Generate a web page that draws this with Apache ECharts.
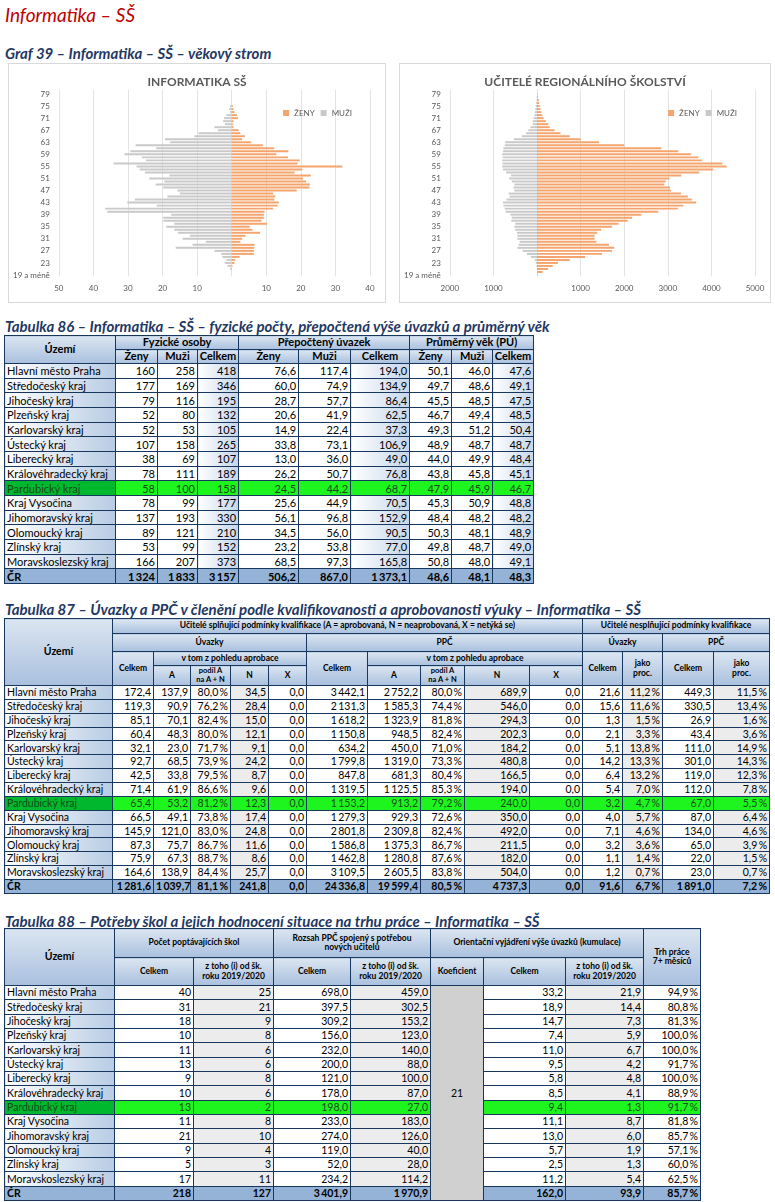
<!DOCTYPE html>
<html><head><meta charset="utf-8">
<script src="https://cdn.jsdelivr.net/npm/echarts@6/dist/echarts.min.js"></script>
<style>
body{margin:0;width:775px;height:1202px;background:#fff;position:relative;overflow:hidden;font-family:Lato,"Liberation Sans",sans-serif;}
.t{position:absolute;left:5px;font-weight:bold;font-style:italic;color:#1f3864;font-size:15px;white-space:nowrap;}
.box{position:absolute;border:1px solid #d9d9d9;box-sizing:border-box;}
table{position:absolute;border-collapse:collapse;table-layout:fixed;font-size:10.5px;}
td{border:1px solid #17375e;padding:0 2px;white-space:nowrap;overflow:hidden;text-align:right;line-height:1;}
td.h{background:linear-gradient(#dbe5f1,#a9c0de);text-align:center;font-weight:bold;white-space:normal;line-height:1.1;padding:0 1px;}
td.l{background:linear-gradient(90deg,#fff,#b8cce4);text-align:left;}
td.c{background:linear-gradient(90deg,#fff,#c5d5ea);}
td.g{background:#ececec;}
tr.cr td{background:#95b3d7;font-weight:bold;}
tr.pa td{background:#1ef51e;color:#1a4a1a;}
tr.pa td.l{background:#00b82e;}
td.k{background:#d0d0d0 !important;text-align:center;color:#000 !important;}
</style></head><body>
<div style="position:absolute;left:5px;top:3px;font-style:italic;color:#c00000;font-size:19px;">Informatika – SŠ</div>
<div class="t" style="top:44px">Graf 39 – Informatika – SŠ – věkový strom</div>
<div class="box" id="c1" style="left:8px;top:63px;width:378px;height:240px"></div>
<div class="box" id="c2" style="left:399px;top:63px;width:372px;height:240px"></div>
<div class="t" style="top:317px">Tabulka 86 – Informatika – SŠ – fyzické počty, přepočtená výše úvazků a průměrný věk</div>
<div class="t" style="top:600px">Tabulka 87 – Úvazky a PPČ v členění podle kvalifikovanosti a aprobovanosti výuky – Informatika – SŠ</div>
<div class="t" style="top:912px">Tabulka 88 – Potřeby škol a jejich hodnocení situace na trhu práce – Informatika – SŠ</div>
<script>
// ---------- pyramid data ----------
const ages = ["19 a méně"]; for (let a=20;a<=80;a++) ages.push(String(a));
const infZeny = [0,0,0,0.2,0.8,1,2.3,6.4,6.4,6.5,6.6,2.5,3,4,8.2,6,5.2,10.2,8.6,9.3,9.3,9.5,12,13.3,13.6,12.3,12.6,12,18.8,22.5,22.6,21.5,20.6,22.9,18.2,20.4,32,19,19.7,16.3,12.9,16.4,12.3,9,5.6,3,3.8,2.5,2,0.5,0.3,0.5,1.8,1.5,0.8,0.5,0.3,0,0,0,0,0];
const infMuzi = [0,0,0.5,1.2,2,1.5,2.7,3,5,16.2,11.3,7.5,14.2,12.1,15.5,16.6,18.9,16.6,19.8,19.8,17.5,36,36.6,21.7,30.2,28,18.6,15,15.7,19.8,22,19.5,23.8,18,25.1,26.6,27.5,34.2,24.8,26,31,29.3,21.8,27.8,17.8,19.3,10.8,9.6,4,5,2,2.5,2.2,1.5,0.5,0.7,0.5,0,0,0,0,0];
const regZeny = [10,130,250,360,480,750,1100,1490,1720,1770,1650,1360,1320,1320,1380,1470,1720,1870,2080,2180,2390,2780,3230,3360,3650,3550,3460,3300,3070,3050,2920,2950,3040,3310,3720,4040,4350,4250,3780,3700,3530,3240,2850,2000,1420,1000,750,540,400,290,260,200,150,120,100,80,60,50,40,20,10,5];
const regMuzi = [0,0,5,10,30,50,140,230,330,450,420,400,450,450,460,500,520,500,590,580,610,720,740,770,780,700,630,650,520,540,520,580,640,600,710,780,800,790,800,790,800,780,770,740,730,530,350,250,200,150,100,100,80,60,50,40,30,20,10,5,0,0];

function pyramid(id,title,zeny,muzi,min,max,step){
  const ch = echarts.init(document.getElementById(id));
  ch.setOption({
    animation:false,
    textStyle:{fontFamily:'Lato'},
    title:{text:title,left:'center',top:7,textStyle:{fontSize:12,fontWeight:'bold',color:'#595959',fontFamily:'Lato'}},
    legend:{right:28,top:40,itemWidth:6,itemHeight:6,itemGap:6,icon:'rect',textStyle:{fontSize:8,color:'#595959',fontFamily:'Lato'},data:['ŽENY','MUŽI']},
    grid:{left:16,right:15,top:25.5,bottom:25.5},
    xAxis:{type:'value',min:min,max:max,interval:step,
      axisLabel:{fontSize:8,color:'#595959',formatter:v=>v===0?'':String(Math.abs(v))},
      splitLine:{lineStyle:{color:'#e3e3e3'}},axisLine:{show:false},axisTick:{show:false}},
    yAxis:{type:'category',data:ages,axisLine:{show:true,onZero:true,lineStyle:{color:'rgba(0,0,0,0)'}},axisTick:{show:false},
      axisLabel:{interval:3,fontSize:8,color:'#595959',backgroundColor:'#fff',padding:[0,1]},z:5},
    series:[
      {name:'ŽENY',type:'bar',stack:'s',data:zeny,itemStyle:{color:'#f4a46c'},barCategoryGap:'35%'},
      {name:'MUŽI',type:'bar',stack:'s',data:muzi.map(v=>-v),itemStyle:{color:'#c9c9c9'},barCategoryGap:'35%'}
    ]
  });
}
pyramid('c1','INFORMATIKA SŠ',infZeny,infMuzi,-50,40,10);
pyramid('c2','UČITELÉ REGIONÁLNÍHO ŠKOLSTVÍ',regZeny,regMuzi,-2000,5000,1000);

// ---------- table data ----------
const kraje = ["Hlavní město Praha","Středočeský kraj","Jihočeský kraj","Plzeňský kraj","Karlovarský kraj","Ústecký kraj","Liberecký kraj","Královéhradecký kraj","Pardubický kraj","Kraj Vysočina","Jihomoravský kraj","Olomoucký kraj","Zlínský kraj","Moravskoslezský kraj","ČR"];
// T86
const foZeny=[160,177,79,52,52,107,38,78,58,78,137,89,53,166,1324];
const foMuzi=[258,169,116,80,53,158,69,111,100,99,193,121,99,207,1833];
const foCelkem=[418,346,195,132,105,265,107,189,158,177,330,210,152,373,3157];
const puZeny=[76.6,60.0,28.7,20.6,14.9,33.8,13.0,26.2,24.5,25.6,56.1,34.5,23.2,68.5,506.2];
const puMuzi=[117.4,74.9,57.7,41.9,22.4,73.1,36.0,50.7,44.2,44.9,96.8,56.0,53.8,97.3,867.0];
const puCelkem=[194.0,134.9,86.4,62.5,37.3,106.9,49.0,76.8,68.7,70.5,152.9,90.5,77.0,165.8,1373.1];
const vekZeny=[50.1,49.7,45.5,46.7,49.3,48.9,44.0,43.8,47.9,45.3,48.4,50.3,49.8,50.8,48.6];
const vekMuzi=[46.0,48.6,48.5,49.4,51.2,48.7,49.9,45.8,45.9,50.9,48.2,48.1,48.7,48.0,48.1];
const vekCelkem=[47.6,49.1,47.5,48.5,50.4,48.7,48.4,45.1,46.7,48.8,48.2,48.9,49.0,49.1,48.3];
// T87
const uvCelkem=[172.4,119.3,85.1,60.4,32.1,92.7,42.5,71.4,65.4,66.5,145.9,87.3,75.9,164.6,1281.6];
const uvA=[137.9,90.9,70.1,48.3,23.0,68.5,33.8,61.9,53.2,49.1,121.0,75.7,67.3,138.9,1039.7];
const uvPodil=[80.0,76.2,82.4,80.0,71.7,73.9,79.5,86.6,81.2,73.8,83.0,86.7,88.7,84.4,81.1];
const uvN=[34.5,28.4,15.0,12.1,9.1,24.2,8.7,9.6,12.3,17.4,24.8,11.6,8.6,25.7,241.8];
const uvX=[0,0,0,0,0,0,0,0,0,0,0,0,0,0,0];
const ppcCelkem=[3442.1,2131.3,1618.2,1150.8,634.2,1799.8,847.8,1319.5,1153.2,1279.3,2801.8,1586.8,1462.8,3109.5,24336.8];
const ppcA=[2752.2,1585.3,1323.9,948.5,450.0,1319.0,681.3,1125.5,913.2,929.3,2309.8,1375.3,1280.8,2605.5,19599.4];
const ppcPodil=[80.0,74.4,81.8,82.4,71.0,73.3,80.4,85.3,79.2,72.6,82.4,86.7,87.6,83.8,80.5];
const ppcN=[689.9,546.0,294.3,202.3,184.2,480.8,166.5,194.0,240.0,350.0,492.0,211.5,182.0,504.0,4737.3];
const ppcX=[0,0,0,0,0,0,0,0,0,0,0,0,0,0,0];
const nkUv=[21.6,15.6,1.3,2.1,5.1,14.2,6.4,5.4,3.2,4.0,7.1,3.2,1.1,1.2,91.6];
const nkUvPr=[11.2,11.6,1.5,3.3,13.8,13.3,13.2,7.0,4.7,5.7,4.6,3.6,1.4,0.7,6.7];
const nkPpc=[449.3,330.5,26.9,43.4,111.0,301.0,119.0,112.0,67.0,87.0,134.0,65.0,22.0,23.0,1891.0];
const nkPpcPr=[11.5,13.4,1.6,3.6,14.9,14.3,12.3,7.8,5.5,6.4,4.6,3.9,1.5,0.7,7.2];
// T88
const skolCelkem=[40,31,18,10,11,13,9,10,13,11,21,9,5,17,218];
const skolOd=[25,21,9,8,6,6,8,6,2,8,10,4,3,11,127];
const rozCelkem=[698.0,397.5,309.2,156.0,232.0,200.0,121.0,178.0,198.0,233.0,274.0,119.0,52.0,234.2,3401.9];
const rozOd=[459.0,302.5,153.2,123.0,140.0,88.0,100.0,87.0,27.0,183.0,126.0,40.0,28.0,114.2,1970.9];
const koeficient=21;
const orCelkem=[33.2,18.9,14.7,7.4,11.0,9.5,5.8,8.5,9.4,11.1,13.0,5.7,2.5,11.2,162.0];
const orOd=[21.9,14.4,7.3,5.9,6.7,4.2,4.8,4.1,1.3,8.7,6.0,1.9,1.3,5.4,93.9];
const trh=[94.9,80.8,81.3,100.0,100.0,91.7,100.0,88.9,91.7,81.8,85.7,57.1,60.0,62.5,85.7];

function fmt(v,d){let s=v.toFixed(d).split('.');s[0]=s[0].replace(/\B(?=(\d{3})+(?!\d))/g,'\u2009');return s.join(',');}
const pct=v=>fmt(v,1)+'\u2009%';

function makeTable(left,top,widths,headHtml,rowH,fs,cols){
  const t=document.createElement('table');
  t.style.left=left+'px';t.style.top=top+'px';t.style.fontSize=fs+'px';
  let w=widths.reduce((a,b)=>a+b,0);t.style.width=w+'px';
  let h='<colgroup>'+widths.map(x=>'<col style="width:'+x+'px">').join('')+'</colgroup>';
  h+=headHtml;
  kraje.forEach((k,i)=>{
    const cls=i===14?'cr':(i===8?'pa':'');
    h+='<tr class="'+cls+'" style="height:'+rowH+'px"><td class="l">'+k+'</td>';
    cols.forEach((c)=>{
      if(c.skip){ if(i===0) h+='<td class="k" rowspan="15">'+c.text+'</td>'; return; }
      h+='<td class="'+(c.cls||'')+'">'+c.f(c.d[i])+'</td>';
    });
    h+='</tr>';
  });
  t.innerHTML=h;document.body.appendChild(t);
}
const n0=v=>fmt(v,0), n1=v=>fmt(v,1);
// T86
makeTable(4,335,[111,42,40,41,60,52,59,42,41,41],
 '<tr style="height:14px"><td class="h" rowspan="2">Území</td><td class="h" colspan="3">Fyzické osoby</td><td class="h" colspan="3">Přepočtený úvazek</td><td class="h" colspan="3">Průměrný věk (PÚ)</td></tr>'+
 '<tr style="height:14px"><td class="h">Ženy</td><td class="h">Muži</td><td class="h">Celkem</td><td class="h">Ženy</td><td class="h">Muži</td><td class="h">Celkem</td><td class="h">Ženy</td><td class="h">Muži</td><td class="h">Celkem</td></tr>',
 14.67,11,
 [{d:foZeny,f:n0},{d:foMuzi,f:n0},{d:foCelkem,f:n0,cls:'c'},{d:puZeny,f:n1},{d:puMuzi,f:n1},{d:puCelkem,f:n1,cls:'c'},{d:vekZeny,f:n1},{d:vekMuzi,f:n1},{d:vekCelkem,f:n1,cls:'c'}]);
// T87
const hs='font-size:8.5px;';
makeTable(4,618,[108,41,37,40,38,38,61,53,44,65,53,40,40,51,56],
 '<tr style="height:15px"><td class="h" rowspan="4" style="font-size:10.5px">Území</td><td class="h" colspan="10" style="'+hs+'">Učitelé splňující podmínky kvalifikace (A = aprobovaná, N = neaprobovaná, X = netýká se)</td><td class="h" colspan="4" style="'+hs+'white-space:nowrap">Učitelé nesplňující podmínky kvalifikace</td></tr>'+
 '<tr style="height:18px"><td class="h" colspan="5" style="'+hs+'">Úvazky</td><td class="h" colspan="5" style="'+hs+'">PPČ</td><td class="h" colspan="2" style="'+hs+'">Úvazky</td><td class="h" colspan="2" style="'+hs+'">PPČ</td></tr>'+
 '<tr style="height:14px"><td class="h" rowspan="2" style="'+hs+'">Celkem</td><td class="h" colspan="4" style="'+hs+'">v tom z pohledu aprobace</td><td class="h" rowspan="2" style="'+hs+'">Celkem</td><td class="h" colspan="4" style="'+hs+'">v tom z pohledu aprobace</td><td class="h" rowspan="2" style="'+hs+'">Celkem</td><td class="h" rowspan="2" style="'+hs+'">jako<br>proc.</td><td class="h" rowspan="2" style="'+hs+'">Celkem</td><td class="h" rowspan="2" style="'+hs+'">jako<br>proc.</td></tr>'+
 '<tr style="height:20px"><td class="h" style="'+hs+'">A</td><td class="h" style="font-size:7.5px">podíl A<br>na A + N</td><td class="h" style="'+hs+'">N</td><td class="h" style="'+hs+'">X</td><td class="h" style="'+hs+'">A</td><td class="h" style="font-size:7.5px">podíl A<br>na A + N</td><td class="h" style="'+hs+'">N</td><td class="h" style="'+hs+'">X</td></tr>',
 13.87,10.5,
 [{d:uvCelkem,f:n1},{d:uvA,f:n1},{d:uvPodil,f:pct},{d:uvN,f:n1,cls:'g'},{d:uvX,f:n1},{d:ppcCelkem,f:n1},{d:ppcA,f:n1},{d:ppcPodil,f:pct},{d:ppcN,f:n1,cls:'g'},{d:ppcX,f:n1},{d:nkUv,f:n1},{d:nkUvPr,f:pct,cls:'g'},{d:nkPpc,f:n1},{d:nkPpcPr,f:pct,cls:'g'}]);
// T88
makeTable(4,928,[110,79,80,77,80,53,82,78,57],
 '<tr style="height:29px"><td class="h" rowspan="2" style="font-size:10.5px">Území</td><td class="h" colspan="2" style="'+hs+'">Počet poptávajících škol</td><td class="h" colspan="2" style="'+hs+'">Rozsah PPČ spojený s potřebou<br>nových učitelů</td><td class="h" colspan="3" style="'+hs+'">Orientační vyjádření výše úvazků (kumulace)</td><td class="h" rowspan="2" style="'+hs+'">Trh práce<br>7+ měsíců</td></tr>'+
 '<tr style="height:28px"><td class="h" style="'+hs+'">Celkem</td><td class="h" style="'+hs+'">z toho (i) od šk.<br>roku 2019/2020</td><td class="h" style="'+hs+'">Celkem</td><td class="h" style="'+hs+'">z toho (i) od šk.<br>roku 2019/2020</td><td class="h" style="'+hs+'">Koeficient</td><td class="h" style="'+hs+'">Celkem</td><td class="h" style="'+hs+'">z toho (i) od šk.<br>roku 2019/2020</td></tr>',
 14.33,10.5,
 [{d:skolCelkem,f:n0},{d:skolOd,f:n0,cls:'g'},{d:rozCelkem,f:n1},{d:rozOd,f:n1,cls:'g'},{skip:true,text:koeficient},{d:orCelkem,f:n1},{d:orOd,f:n1,cls:'g'},{d:trh,f:pct}]);
</script>
</body></html>
